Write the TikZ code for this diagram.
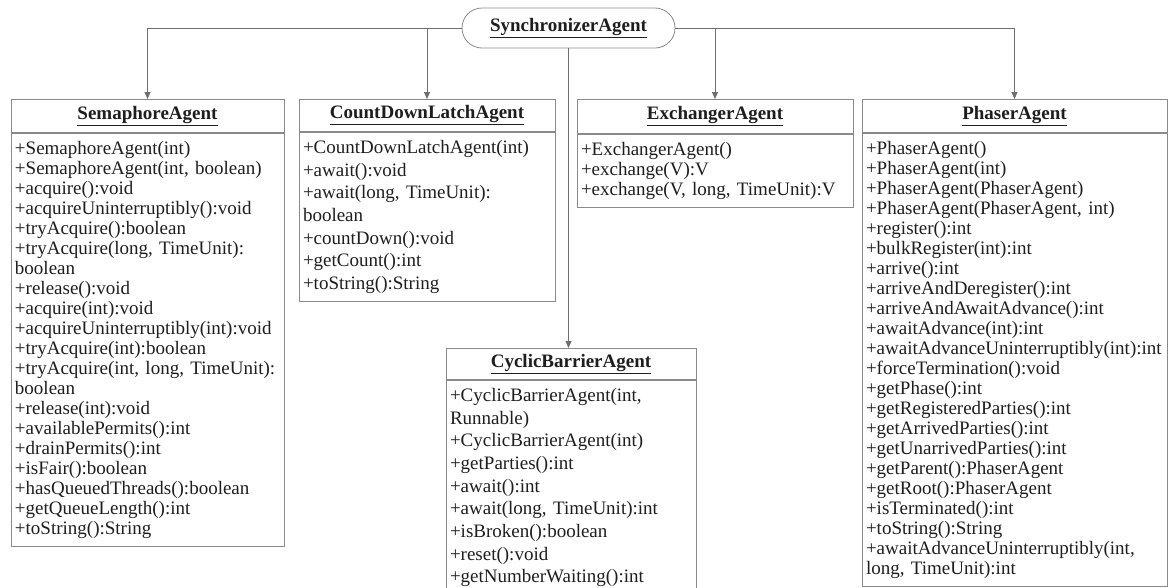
\documentclass[tikz,border=0pt]{standalone}
\usepackage{fontspec}
\setmainfont{Liberation Serif}
\usetikzlibrary{positioning,arrows.meta}
\definecolor{edgegray}{HTML}{6E6E6E}
\definecolor{boxgray}{HTML}{8A8A8A}
\definecolor{inkgray}{HTML}{1E1E1E}
\lefthyphenmin=64
\newcommand{\clsname}[1]{\textbf{\underline{#1}}}

\begin{document}
\begin{tikzpicture}[x=1pt, y=-1pt,
    every node/.style={text=inkgray, font=\fontsize{19}{20}\selectfont},
    syncbox/.style={draw=boxgray, line width=0.8pt, rounded corners=20pt,
      minimum width=213pt, minimum height=40pt, inner sep=0pt},
    classtitle/.style={draw=boxgray, line width=0.8pt, minimum height=33pt,
      inner sep=0pt, anchor=north},
    classbody/.style={draw=boxgray, line width=0.8pt, inner xsep=4pt,
      inner ysep=8pt, align=left},
    wide/.style={font=\fontsize{19}{22.7}\selectfont},
    link/.style={draw=edgegray, line width=0.8pt, -{Triangle[length=7pt,width=6pt]}}]
  \useasboundingbox (0,0) rectangle (1168,587);
  \clip (0,0) rectangle (1168,587);

  % root
  \node[syncbox] (sync) at (568.5,28) {\clsname{SynchronizerAgent}};

  % subclasses
  \node[classtitle, minimum width=273pt] (sem) at (147.5,99) {\clsname{SemaphoreAgent}};
  \node[classbody, text width=265pt, below=0pt of sem] (sem-ops) {+SemaphoreAgent(int)\\
    +SemaphoreAgent(int, boolean)\\ +acquire():void\\ +acquireUninterruptibly():void\\
    +tryAcquire():boolean\\ +tryAcquire(long, TimeUnit):\\ boolean\\ +release():void\\
    +acquire(int):void\\ +acquireUninterruptibly(int):void\\ +tryAcquire(int):boolean\\
    +tryAcquire(int,~long,~TimeUnit):\\ boolean\\ +release(int):void\\
    +availablePermits():int\\ +drainPermits():int\\ +isFair():boolean\\
    +hasQueuedThreads():boolean\\ +getQueueLength():int\\ +toString():String};

  \node[classtitle, minimum width=256pt, minimum height=32pt] (cdl) at (427,99) {\clsname{CountDownLatchAgent}};
  \node[classbody, wide, text width=248pt, below=0pt of cdl] (cdl-ops) {+CountDownLatchAgent(int)\\
    +await():void\\ +await(long, TimeUnit):\\ boolean\\ +countDown():void\\
    +getCount():int\\ +toString():String};

  \node[classtitle, minimum width=276pt, minimum height=34pt] (exc) at (715,99) {\clsname{ExchangerAgent}};
  \node[classbody, text width=268pt, below=0pt of exc] (exc-ops) {+ExchangerAgent()\\
    +exchange(V):V\\ +exchange(V, long, TimeUnit):V};

  \node[classtitle, minimum width=305pt] (phs) at (1014.5,99) {\clsname{PhaserAgent}};
  \node[classbody, text width=297pt, below=0pt of phs] (phs-ops) {+PhaserAgent()\\
    +PhaserAgent(int)\\ +PhaserAgent(PhaserAgent)\\ +PhaserAgent(PhaserAgent, int)\\
    +register():int\\ +bulkRegister(int):int\\ +arrive():int\\ +arriveAndDeregister():int\\
    +arriveAndAwaitAdvance():int\\ +awaitAdvance(int):int\\
    +awaitAdvanceUninterruptibly(int):int\\ +forceTermination():void\\ +getPhase():int\\
    +getRegisteredParties():int\\ +getArrivedParties():int\\ +getUnarrivedParties():int\\
    +getParent():PhaserAgent\\ +getRoot():PhaserAgent\\ +isTerminated():int\\
    +toString():String\\ +awaitAdvanceUninterruptibly(int,\\ long, TimeUnit):int};

  \node[classtitle, minimum width=250pt, minimum height=31pt] (cyc) at (571,348) {\clsname{CyclicBarrierAgent}};
  \node[classbody, wide, text width=242pt, below=0pt of cyc] (cyc-ops) {+CyclicBarrierAgent(int,\\
    Runnable)\\ +CyclicBarrierAgent(int)\\ +getParties():int\\ +await():int\\
    +await(long, TimeUnit):int\\ +isBroken():boolean\\ +reset():void\\
    +getNumberWaiting():int};

  % generalisation links
  \draw[link] (sync.west) -| (sem.north);
  \draw[link] (sync.west -| cdl.north) -- (cdl.north);
  \draw[link] (sync.east) -| (phs.north);
  \draw[link] (sync.east -| exc.north) -- (exc.north);
  \draw[link] (sync.south) -- (sync.south |- cyc.north);
\end{tikzpicture}
\end{document}
